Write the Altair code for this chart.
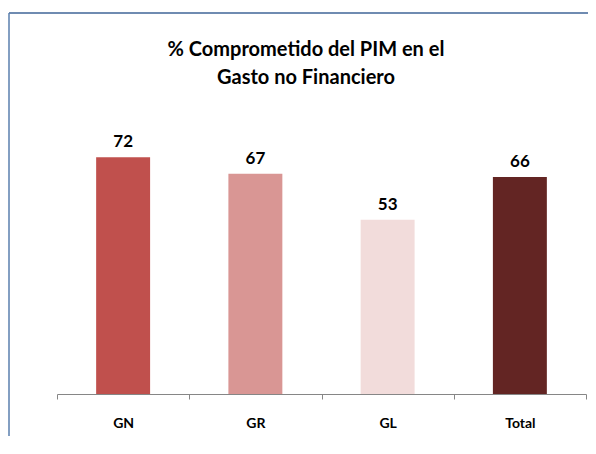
import altair as alt
import pandas as pd

categories = ["GN", "GR", "GL", "Total"]
values = [72, 67, 53, 66]
title_lines = ["% Comprometido del PIM en el", "Gasto no Financiero"]
bar_colors = ["#C0504D", "#D99694", "#F2DCDB", "#632523"]

df = pd.DataFrame({"cat": categories, "val": values})
title_df = pd.DataFrame({"line": title_lines})
frame_df = pd.DataFrame({"edge": ["top"]})

FONT = "Lato"

x_enc = alt.X(
    "cat:N",
    sort=categories,
    title=None,
    scale=alt.Scale(paddingInner=0, paddingOuter=0),
    axis=alt.Axis(
        labelAngle=0,
        labelFont=FONT,
        labelFontSize=14,
        labelFontWeight="bold",
        labelColor="#000000",
        labelPadding=17,
        domainColor="#868686",
        tickColor="#868686",
        tickSize=5,
        tickBand="extent",
        grid=False,
    ),
)
y_enc = alt.Y("val:Q", scale=alt.Scale(domain=[0, 80]), axis=None)

frame_top = alt.Chart(frame_df).mark_rule(color="#3F6497", strokeWidth=1.5).encode(
    x=alt.value(-48), x2=alt.value(531), y=alt.value(-118)
)
frame_left = alt.Chart(frame_df).mark_rule(color="#5A7FAE", strokeWidth=1.5).encode(
    x=alt.value(-48), y=alt.value(-118), y2=alt.value(320)
)

title1 = alt.Chart(title_df.iloc[[0]]).mark_text(
    font=FONT, fontSize=20, fontWeight="bold", color="#000000",
    align="center", baseline="alphabetic",
).encode(x=alt.value(249), y=alt.value(-75), text="line:N")

title2 = alt.Chart(title_df.iloc[[1]]).mark_text(
    font=FONT, fontSize=20, fontWeight="bold", color="#000000",
    align="center", baseline="alphabetic",
).encode(x=alt.value(249), y=alt.value(-47), text="line:N")

bars = alt.Chart(df).mark_bar(width=alt.RelativeBandSize(0.408)).encode(
    x=x_enc,
    y=y_enc,
    color=alt.Color(
        "cat:N", scale=alt.Scale(domain=categories, range=bar_colors), legend=None
    ),
)

labels = alt.Chart(df).mark_text(
    font=FONT, fontSize=17, fontWeight="bold", color="#000000",
    baseline="alphabetic", dy=-10,
).encode(x=alt.X("cat:N", sort=categories), y=y_enc, text=alt.Text("val:Q"))

chart = alt.layer(frame_top, frame_left, title1, title2, bars, labels).properties(
    width=529,
    height=263,
    padding={"left": 49, "top": 123, "right": 2, "bottom": 42},
    autosize=alt.AutoSizeParams(type="none"),
).configure(background="white").configure_view(strokeWidth=0, stroke=None)

chart.save("out.html", embed_options={"renderer": "svg", "actions": False})
